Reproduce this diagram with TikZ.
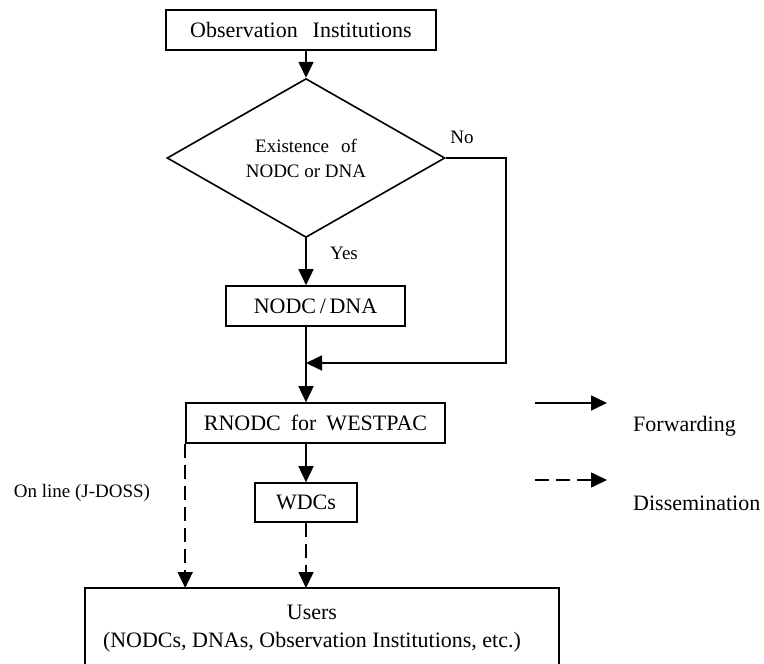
\documentclass[tikz,border=0pt]{standalone}
\usepackage{fontspec}
\setmainfont{Liberation Serif}
\usetikzlibrary{shapes.geometric,arrows.meta,positioning}

\tikzset{
  stepbox/.style={draw, line width=1.6pt, inner sep=0pt, font=\fontsize{22}{26}\selectfont},
  decision/.style={diamond, draw, line width=1.6pt, inner sep=0pt, align=center, font=\fontsize{19}{25}\selectfont},
  note/.style={inner sep=0pt, font=\fontsize{19}{23}\selectfont},
  keytext/.style={inner sep=0pt, anchor=west, font=\fontsize{22}{26}\selectfont},
  fwd/.style={line width=1.6pt, -{Triangle[length=16pt,width=15pt]}},
  dis/.style={fwd, dash pattern=on 14pt off 7pt},
}

\begin{document}
\begin{tikzpicture}[x=1pt, y=-1pt]
  \useasboundingbox (0,0) rectangle (764,664);
  \clip (0,0) rectangle (764,664);
  % boxes
  \node[stepbox, minimum width=270pt, minimum height=40pt] (obs) at (301,30) {Observation\hspace{15pt}Institutions};
  \node[decision, minimum width=278pt, minimum height=150pt] (cond) at (306,158) {Existence\hspace{12pt}of\\NODC or DNA};
  \node[stepbox, minimum width=179pt, minimum height=40pt] (nodc) at (315.5,306) {NODC\,/\,DNA\hspace{20pt}};
  \node[stepbox, minimum width=259pt, minimum height=40pt] (rnodc) at (315.5,423) {RNODC\hspace{10pt}for\hspace{10pt}WESTPAC};
  \node[stepbox, minimum width=102pt, minimum height=39pt] (wdcs) at (306,502.5) {WDCs};
  \node[stepbox, draw=none, anchor=north, minimum width=472pt, inner ysep=16pt, align=center, font=\fontsize{22}{28}\selectfont] (users) at (322,588)
       {Users\hspace*{20pt}\\(NODCs, DNAs, Observation Institutions, etc.)\hspace*{20pt}};
  \coordinate (floor) at (0,672);
  \draw[line width=1.6pt] (users.north west |- floor) |- (users.north east) -- (users.north east |- floor);
  % labels
  \node[note] (no) at (462,137) {No};
  \node[note, anchor=west] (yes) at (330,253) {Yes};
  \node[note] (online) at (82,493) {On line (J-DOSS)};
  % forwarding
  \draw[fwd] (cond.north |- obs.south) -- (cond.north);
  \draw[fwd] (cond.south) -- (cond.south |- nodc.north);
  \coordinate (noturn) at (506,158);
  \coordinate (join) at (306,363);
  \draw[fwd] (cond.east) -- (noturn) |- (join);
  \draw[fwd] (nodc.south -| cond.south) -- (rnodc.north -| cond.south);
  \draw[fwd] (rnodc.south -| wdcs.north) -- (wdcs.north);
  % dissemination
  \draw[dis] (wdcs.south) -- (wdcs.south |- users.north);
  \draw[dis] (rnodc.south west) -- (rnodc.south west |- users.north);
  % key
  \foreach \y/\kind/\name in {403/fwd/Forwarding,480/dis/Dissemination}{
    \coordinate (\kind start) at (535,\y);
    \coordinate (\kind end) at (607,\y);
    \draw[\kind] (\kind start) -- (\kind end);
    \node[keytext] (\kind text) at (633,\y+23) {\name};
  }
\end{tikzpicture}
\end{document}
